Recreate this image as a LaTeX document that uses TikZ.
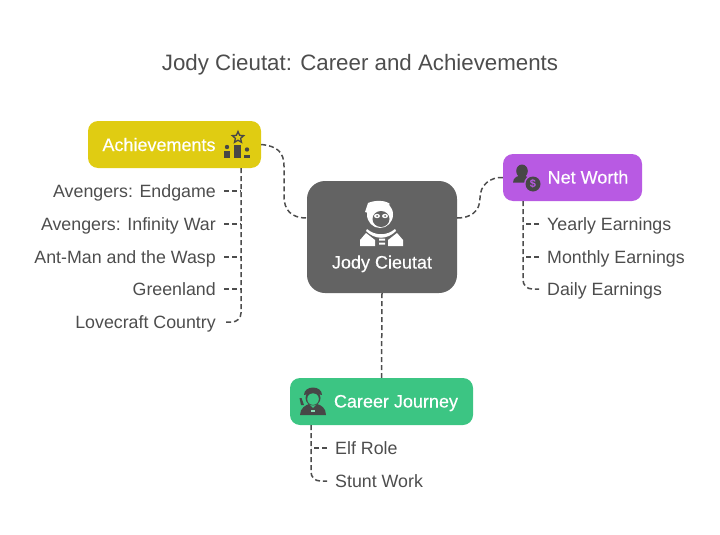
\documentclass[tikz,border=0pt]{standalone}
\usepackage{fontspec}
\setmainfont{Liberation Sans}
\newfontfamily\boxfont[FakeBold=0.35]{Liberation Sans}
\usetikzlibrary{shapes.geometric}
\definecolor{inkgrey}{HTML}{4D4D4D}
\definecolor{centergrey}{HTML}{636363}
\definecolor{achyellow}{HTML}{E0CC12}
\definecolor{worthpurple}{HTML}{B85AE3}
\definecolor{careergreen}{HTML}{3CC583}
\definecolor{icongrey}{HTML}{474747}
\begin{document}
\begin{tikzpicture}
        [x=1pt, y=-1pt,
        box/.style={rounded corners=10pt, inner sep=0pt},
        boxlabel/.style={inner sep=0pt, text height=16pt, text depth=4pt, text=white, font=\boxfont\fontsize{18}{20}\selectfont},
        leaf/.style={inner xsep=8pt, inner ysep=0pt, text height=17pt, text depth=4pt, text=inkgrey, font=\fontsize{17.8}{20}\selectfont},
        link/.style={draw=inkgrey, line width=1.5pt, dash pattern=on 5pt off 3pt},
        icon/.style={fill=icongrey, draw=none}]
        \useasboundingbox (0,0) rectangle (720,535);
        \node (title) at (360,63) [text=inkgrey, font=\fontsize{22.3}{26}\selectfont, text height=20pt, text depth=5pt, inner sep=0pt] {Jody Cieutat: Career and Achievements};
        \node (jody) at (382,237) [box, fill=centergrey, minimum width=150pt, minimum height=112pt, rounded corners=18pt] {};
        \node (jodylabel) at (382,262.5) [boxlabel] {Jody Cieutat};
        \node (ach) at (174.5,144.5) [box, fill=achyellow, minimum width=173pt, minimum height=47pt] {};
        \node (achlabel) at (159,145) [boxlabel] {Achievements};
        \node (worth) at (572.5,177.5) [box, fill=worthpurple, minimum width=139pt, minimum height=47pt] {};
        \node (worthlabel) at (588,177.5) [boxlabel] {Net Worth};
        \node (career) at (381.5,401.5) [box, fill=careergreen, minimum width=183pt, minimum height=47pt] {};
        \node (careerlabel) at (396,401.5) [boxlabel] {Career Journey};

        \node (endgame) at (224,191) [leaf, anchor=east] {Avengers: Endgame};
        \node (infinity) at (224,224) [leaf, anchor=east] {Avengers: Infinity War};
        \node (antman) at (224,257) [leaf, anchor=east] {Ant-Man and the Wasp};
        \node (greenland) at (224,289) [leaf, anchor=east] {Greenland};
        \node (lovecraft) at (224,322) [leaf, anchor=east] {Lovecraft Country};
        \node (yearly) at (539,224) [leaf, anchor=west] {Yearly Earnings};
        \node (monthly) at (539,257) [leaf, anchor=west] {Monthly Earnings};
        \node (daily) at (539,289) [leaf, anchor=west] {Daily Earnings};
        \node (elf) at (327,448) [leaf, anchor=west] {Elf Role};
        \node (stunt) at (327,481) [leaf, anchor=west] {Stunt Work};

        \coordinate (achfoot) at (241,168);
        \coordinate (worthfoot) at (523,201);
        \coordinate (careerfoot) at (311,425);

        \draw[link] (ach.east) .. controls (277,146) and (284,152) .. (284,166) -- (284,196) .. controls (284,210) and (291,218) .. (jody.west |- 0,218);
        \draw[link] (jody.east |- 0,218) .. controls (470,218) and (480,212) .. (480,198) .. controls (480,185) and (490,177) .. (worth.west);
        \draw[link] (jody.south) -- (career.north);

        \draw[link, rounded corners=9pt] (achfoot) |- (lovecraft.east);
        \draw[link] (endgame.east) -- (achfoot |- endgame.east);
        \draw[link] (infinity.east) -- (achfoot |- infinity.east);
        \draw[link] (antman.east) -- (achfoot |- antman.east);
        \draw[link] (greenland.east) -- (achfoot |- greenland.east);
        \draw[link, rounded corners=9pt] (worthfoot) |- (daily.west);
        \draw[link] (yearly.west) -- (worthfoot |- yearly.west);
        \draw[link] (monthly.west) -- (worthfoot |- monthly.west);
        \draw[link, rounded corners=9pt] (careerfoot) |- (stunt.west);
        \draw[link] (elf.west) -- (careerfoot |- elf.west);

        \fill[white] (380,214.5) ellipse [x radius=13pt, y radius=13.5pt];
        \fill[white] (368,203) .. controls (375,200) and (385,200) .. (390,204) -- (372,214) -- (365,212) -- cycle;
        \fill[centergrey] (381,219) ellipse [x radius=8.5pt, y radius=8pt];
        \fill[white] (377,216) ellipse [x radius=3pt, y radius=2.2pt] (385,216) ellipse [x radius=3pt, y radius=2.2pt];
        \fill[centergrey] (377,216) circle [radius=1pt] (385,216) circle [radius=1pt];
        \fill[white] (360,246) -- (360,240) -- (366,233) -- (375,240) -- (375,246) -- cycle;
        \fill[white] (403,246) -- (403,240) -- (397,233) -- (388,240) -- (388,246) -- cycle;
        \fill[white] (367,229) .. controls (375,236) and (387,236) .. (395,229) -- (396,231) .. controls (387,240) and (375,240) .. (366,231) -- cycle;
        \fill[white] (379,238.5) rectangle (385,240.5) (379,242.5) rectangle (385,244.5);

        \node (achstar) at (238,137.5) [star, star points=5, star point ratio=2.2, minimum size=12pt, inner sep=0pt, draw=icongrey, line width=1.3pt, fill=none] {};
        \fill[icon] (234,145) rectangle (241,157.5);
        \fill[icon] (224,151) rectangle (230,157.5);
        \fill[icon] (244,155) rectangle (250,157.5);
        \fill[icon] (227,147) circle [radius=2.2pt];
        \fill[icon] (247,149.5) circle [radius=2.2pt];

        \fill[icon] (522,171) ellipse [x radius=5.8pt, y radius=6.5pt];
        \fill[icon] (513,182.5) .. controls (513,177) and (518,176) .. (522,175) .. controls (526,176) and (530,177) .. (531,182.5) -- cycle;
        \fill[worthpurple] (533,184) circle [radius=9pt];
        \node (coin) at (533,184) [circle, fill=icongrey, minimum size=15pt, inner sep=0pt, text=worthpurple, font=\bfseries\fontsize{11}{11}\selectfont] {\$};

        \fill[icon] (300,415) .. controls (300,408) and (306,405) .. (309,404) -- (313,408) -- (317,404) .. controls (321,405) and (326,408) .. (326,415) -- cycle;
        \fill[icon] (301,405) -- (299.5,398) -- (301.5,398) -- (304,405) -- cycle;
        \fill[icon] (313,398) circle [radius=7.5pt];
        \fill[careergreen] (313,399) circle [radius=5.8pt];
        \fill[icon] (304,395) .. controls (304,385) and (322,385) .. (322,395) -- (313,393) -- cycle;
        \fill[careergreen!60!white] (311,410) rectangle (315,411.5);
     \end{tikzpicture}
\end{document}
